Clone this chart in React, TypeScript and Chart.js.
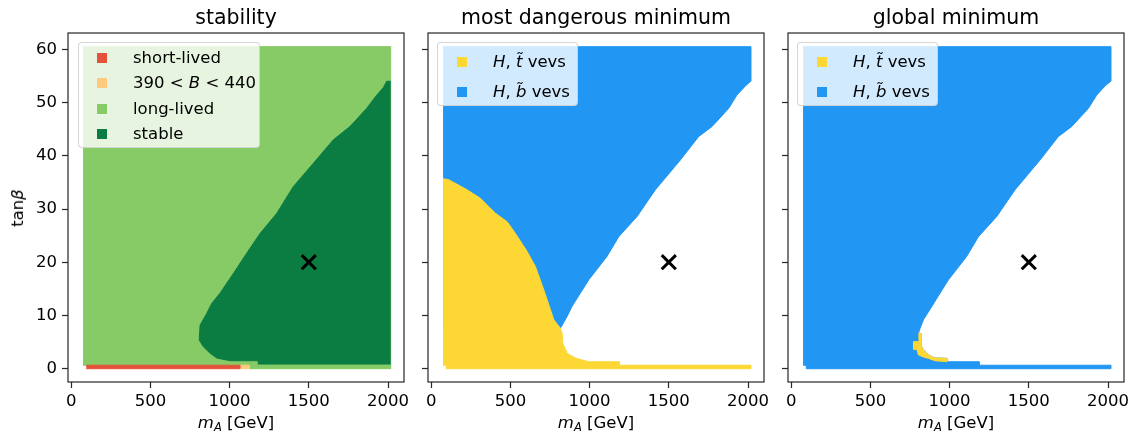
import React, { useEffect, useRef } from 'react';
import { Chart, registerables } from 'chart.js';

Chart.register(...registerables);

const FONT = '"DejaVu Sans", Verdana, sans-serif';
const TEXT = '#000000';
const SPINE = '#262626';

// ---------- axes ----------
const xTicks = [0, 500, 1000, 1500, 2000];
const yTicks = [0, 10, 20, 30, 40, 50, 60];
const xRange = [-20, 2101];
const yRange = [-2.5, 63.07];

// ---------- scan extent (m_A in GeV, tanβ) ----------
const scanMA = [75, 2017];
const scanTanB = [0.65, 60.5];
const lowRowMA = [95, 2017];
const lowRowTanB = [0.0, 0.65];

// ---------- benchmark point ----------
const benchmarkMA = [1500];
const benchmarkTanB = [20];

// ---------- panel 1: stability ----------
const shortLivedMA = [95, 1066];
const metastableMA = [1066, 1125];
const longLivedLowMA = [1125, 2017];
const stableEdgeMA = [2017, 1992, 1970, 1929, 1865, 1760, 1655, 1529, 1402, 1298, 1192, 1108, 1024, 940, 888, 856, 814, 808, 835, 877, 919, 1003, 1182, 1182, 2017];
const stableEdgeTanB = [54.0, 54.0, 52.8, 51.4, 48.9, 45.5, 43.0, 38.6, 34.2, 29.2, 25.4, 21.7, 17.9, 14.2, 12.3, 10.4, 8.2, 5.4, 4.1, 2.9, 2.0, 1.5, 1.5, 0.85, 0.85];

// ---------- panel 2: most dangerous minimum ----------
const dangerBEdgeMA = [2017, 1983, 1930, 1878, 1773, 1688, 1573, 1415, 1300, 1184, 1110, 995, 942, 889, 858, 816];
const dangerBEdgeTanB = [54.0, 53.1, 51.4, 48.9, 45.5, 43.6, 39.2, 33.6, 28.6, 24.8, 21.1, 16.7, 14.2, 11.7, 9.8, 7.6];
const dangerTTopMA = [75, 111, 227, 311, 406, 480, 532, 606, 658, 711, 774, 816];
const dangerTTopTanB = [35.7, 35.5, 33.6, 32.0, 29.2, 27.6, 25.4, 22.0, 19.2, 14.8, 9.2, 7.6];
const dangerTLowMA = [826, 826, 858, 910, 995, 1188, 1188];
const dangerTLowTanB = [6.6, 5.1, 2.9, 2.0, 1.3, 1.3, 0.65];

// ---------- panel 3: global minimum ----------
const globalBEdgeMA = [2017, 1981, 1929, 1876, 1771, 1686, 1571, 1413, 1298, 1182, 1108, 993, 940, 888, 835, 814, 803];
const globalBEdgeTanB = [54.0, 53.1, 51.4, 48.9, 45.5, 43.6, 39.2, 33.6, 28.6, 24.8, 21.1, 16.7, 14.2, 11.7, 9.2, 7.6, 6.65];
const globalHoleMA = [814, 818, 835, 866, 908, 982, 982, 1186, 1186];
const globalHoleTanB = [6.65, 4.5, 3.5, 2.6, 2.0, 1.95, 1.3, 1.3, 0.65];
const globalTSliverMA = [803, 814, 818, 835, 866, 908, 982, 982, 908, 866, 835, 803, 793, 772, 772, 803];
const globalTSliverTanB = [6.65, 6.65, 4.5, 3.5, 2.6, 2.0, 1.95, 1.32, 1.5, 1.95, 2.2, 2.6, 3.64, 3.64, 5.08, 5.08];

const COLORS = {
  shortLived: '#e5523b',
  metastable: '#fdca7e',
  longLived: '#86cb66',
  stable: '#0b7d42',
  tVev: '#fdd835',
  bVev: '#2196f3',
};

type Pt = { x: number; y: number };
const pts = (xs: number[], ys: number[]): Pt[] => xs.map((x, i) => ({ x, y: ys[i] }));
const rect = (xr: number[], yr: number[]): Pt[] => [
  { x: xr[0], y: yr[0] },
  { x: xr[1], y: yr[0] },
  { x: xr[1], y: yr[1] },
  { x: xr[0], y: yr[1] },
];

const area = (label: string, data: Pt[], color: string, order: number) => ({
  label,
  data,
  showLine: true,
  fill: 'shape',
  backgroundColor: color,
  borderColor: color,
  borderWidth: 1,
  pointRadius: 0,
  pointHoverRadius: 0,
  pointHitRadius: 0,
  tension: 0,
  order,
});

const marker = () => ({
  label: 'benchmark',
  data: pts(benchmarkMA, benchmarkTanB),
  showLine: false,
  pointStyle: 'crossRot',
  pointRadius: 10,
  pointHoverRadius: 10,
  pointBorderWidth: 3,
  pointBorderColor: '#000',
  pointBackgroundColor: '#000',
  borderColor: '#000',
  backgroundColor: '#000',
  order: 0,
});

const stabilityDatasets = () => [
  area('long-lived', rect(scanMA, scanTanB), COLORS.longLived, 10),
  area('stable', pts(stableEdgeMA, stableEdgeTanB), COLORS.stable, 8),
  area('short-lived', rect(shortLivedMA, lowRowTanB), COLORS.shortLived, 6),
  area('390<B<440', rect(metastableMA, lowRowTanB), COLORS.metastable, 6),
  area('long-lived low', rect(longLivedLowMA, lowRowTanB), COLORS.longLived, 6),
  marker(),
];

const dangerDatasets = () => [
  area(
    'H, b vevs',
    [
      { x: scanMA[0], y: scanTanB[1] },
      { x: scanMA[1], y: scanTanB[1] },
      ...pts(dangerBEdgeMA, dangerBEdgeTanB),
      { x: scanMA[0], y: dangerBEdgeTanB[dangerBEdgeTanB.length - 1] },
    ],
    COLORS.bVev,
    10
  ),
  area(
    'H, t vevs',
    [
      ...pts(dangerTTopMA, dangerTTopTanB),
      ...pts(dangerTLowMA, dangerTLowTanB),
      { x: lowRowMA[1], y: lowRowTanB[1] },
      { x: lowRowMA[1], y: lowRowTanB[0] },
      { x: lowRowMA[0], y: lowRowTanB[0] },
      { x: lowRowMA[0], y: lowRowTanB[1] },
      { x: scanMA[0], y: scanTanB[0] },
    ],
    COLORS.tVev,
    8
  ),
  marker(),
];

const globalDatasets = () => [
  area(
    'H, b vevs',
    [
      { x: scanMA[0], y: scanTanB[1] },
      { x: scanMA[1], y: scanTanB[1] },
      ...pts(globalBEdgeMA, globalBEdgeTanB),
      ...pts(globalHoleMA, globalHoleTanB),
      { x: lowRowMA[1], y: lowRowTanB[1] },
      { x: lowRowMA[1], y: lowRowTanB[0] },
      { x: lowRowMA[0], y: lowRowTanB[0] },
      { x: lowRowMA[0], y: lowRowTanB[1] },
      { x: scanMA[0], y: scanTanB[0] },
    ],
    COLORS.bVev,
    10
  ),
  area('H, t vevs', pts(globalTSliverMA, globalTSliverTanB), COLORS.tVev, 8),
  marker(),
];

const framePlugin = {
  id: 'frame',
  afterDraw(chart: any) {
    const { ctx, chartArea: a } = chart;
    ctx.save();
    ctx.strokeStyle = SPINE;
    ctx.lineWidth = 1.2;
    ctx.strokeRect(a.left, a.top, a.right - a.left, a.bottom - a.top);
    ctx.restore();
  },
};

const tickFont = { family: FONT, size: 16.5 };

function Panel(props: {
  left: number;
  width: number;
  yAxisWidth: number;
  padRight: number;
  showYLabels: boolean;
  build: () => any[];
}) {
  const ref = useRef<HTMLCanvasElement>(null);
  useEffect(() => {
    const chart = new Chart(ref.current as HTMLCanvasElement, {
      type: 'scatter',
      data: { datasets: props.build() as any },
      options: {
        responsive: false,
        animation: false,
        devicePixelRatio: 1,
        events: [],
        layout: { autoPadding: false, padding: { top: 33, right: props.padRight, bottom: 0, left: 0 } },
        plugins: {
          legend: { display: false },
          tooltip: { enabled: false },
          title: { display: false },
        },
        scales: {
          x: {
            type: 'linear',
            min: xRange[0],
            max: xRange[1],
            bounds: 'data',
            afterBuildTicks: (s: any) => {
              s.ticks = xTicks.map((v) => ({ value: v }));
            },
            afterFit: (s: any) => {
              s.height = 52;
              s.paddingLeft = 0;
              s.paddingRight = 0;
            },
            ticks: {
              font: tickFont,
              color: TEXT,
              padding: 4,
              autoSkip: false,
              maxRotation: 0,
              minRotation: 0,
              callback: (v: any) => String(v),
            },
            grid: {
              drawOnChartArea: false,
              drawTicks: true,
              tickLength: 6,
              tickWidth: 1.2,
              tickColor: SPINE,
            },
            border: { display: false },
          },
          y: {
            type: 'linear',
            min: yRange[0],
            max: yRange[1],
            bounds: 'data',
            afterBuildTicks: (s: any) => {
              s.ticks = yTicks.map((v) => ({ value: v }));
            },
            afterFit: (s: any) => {
              s.width = props.yAxisWidth;
              s.paddingTop = 0;
              s.paddingBottom = 0;
            },
            ticks: {
              display: props.showYLabels,
              font: tickFont,
              color: TEXT,
              padding: 5,
              autoSkip: false,
              callback: (v: any) => String(v),
            },
            grid: {
              drawOnChartArea: false,
              drawTicks: true,
              tickLength: 6,
              tickWidth: 1.2,
              tickColor: SPINE,
            },
            border: { display: false },
          },
        },
      } as any,
      plugins: [framePlugin],
    });
    return () => chart.destroy();
  }, []);
  return (
    <canvas
      ref={ref}
      width={props.width}
      height={434}
      style={{ position: 'absolute', left: props.left, top: 0, width: props.width, height: 434 }}
    />
  );
}

const txt: React.CSSProperties = {
  position: 'absolute',
  fontFamily: FONT,
  color: TEXT,
  whiteSpace: 'nowrap',
};

function Title(props: { cx: number; children: React.ReactNode }) {
  return (
    <div style={{ ...txt, left: props.cx - 200, width: 400, top: 6, height: 22, lineHeight: '22px', fontSize: 20.5, textAlign: 'center' }}>
      {props.children}
    </div>
  );
}

function XLabel(props: { cx: number }) {
  return (
    <div style={{ ...txt, left: props.cx - 100, width: 200, top: 413, height: 20, lineHeight: '20px', fontSize: 16.5, textAlign: 'center' }}>
      <i>m</i>
      <sub style={{ fontSize: '0.7em', verticalAlign: '-0.3em', lineHeight: 0 }}>
        <i>A</i>
      </sub>{' '}
      [GeV]
    </div>
  );
}

type LegendEntry = { color: string; label: React.ReactNode };

const stabilityLegend: LegendEntry[] = [
  { color: COLORS.shortLived, label: <>short-lived</> },
  { color: COLORS.metastable, label: <>390 &lt; <i>B</i> &lt; 440</> },
  { color: COLORS.longLived, label: <>long-lived</> },
  { color: COLORS.stable, label: <>stable</> },
];

const vevLegend: LegendEntry[] = [
  { color: COLORS.tVev, label: <><i>H</i>, <i>{'t\u0303'}</i> vevs</> },
  { color: COLORS.bVev, label: <><i>H</i>, <i>{'b\u0303'}</i> vevs</> },
];

function Legend(props: {
  left: number;
  top: number;
  width: number;
  height: number;
  rows: number[];
  markerLeft: number;
  textLeft: number;
  entries: LegendEntry[];
}) {
  return (
    <div
      style={{
        position: 'absolute',
        left: props.left,
        top: props.top,
        width: props.width,
        height: props.height,
        boxSizing: 'border-box',
        background: 'rgba(255,255,255,0.8)',
        border: '1px solid rgba(204,204,204,0.8)',
        borderRadius: 4,
      }}
    >
      {props.entries.map((e, i) => (
        <React.Fragment key={i}>
          <div
            style={{
              position: 'absolute',
              left: props.markerLeft,
              top: props.rows[i] - 5,
              width: 10,
              height: 10,
              background: e.color,
            }}
          />
          <div
            style={{
              ...txt,
              left: props.textLeft,
              top: props.rows[i] - 11,
              height: 22,
              lineHeight: '22px',
              fontSize: 16.5,
            }}
          >
            {e.label}
          </div>
        </React.Fragment>
      ))}
    </div>
  );
}

export default function App() {
  return (
    <div style={{ position: 'fixed', left: 0, top: 0, width: 1136, height: 434, background: '#fff', overflow: 'hidden' }}>
      <Panel left={0} width={410} yAxisWidth={68} padRight={6} showYLabels={true} build={stabilityDatasets} />
      <Panel left={410} width={362} yAxisWidth={18} padRight={8} showYLabels={false} build={dangerDatasets} />
      <Panel left={772} width={364} yAxisWidth={16} padRight={12} showYLabels={false} build={globalDatasets} />

      <Title cx={236}>stability</Title>
      <Title cx={596}>most dangerous minimum</Title>
      <Title cx={956}>global minimum</Title>

      <XLabel cx={236} />
      <XLabel cx={596} />
      <XLabel cx={956} />

      <div
        style={{
          ...txt,
          left: 18,
          top: 208,
          fontSize: 16.5,
          lineHeight: '20px',
          transform: 'translate(-50%, -50%) rotate(-90deg)',
        }}
      >
        tan<i>β</i>
      </div>

      <Legend left={78} top={42} width={182} height={106} rows={[14.7, 40.3, 66, 91.3]} markerLeft={18} textLeft={54} entries={stabilityLegend} />
      <Legend left={437} top={42} width={141} height={64} rows={[19, 49]} markerLeft={19} textLeft={55} entries={vevLegend} />
      <Legend left={797} top={42} width={141} height={64} rows={[19, 49]} markerLeft={19} textLeft={55} entries={vevLegend} />
    </div>
  );
}
